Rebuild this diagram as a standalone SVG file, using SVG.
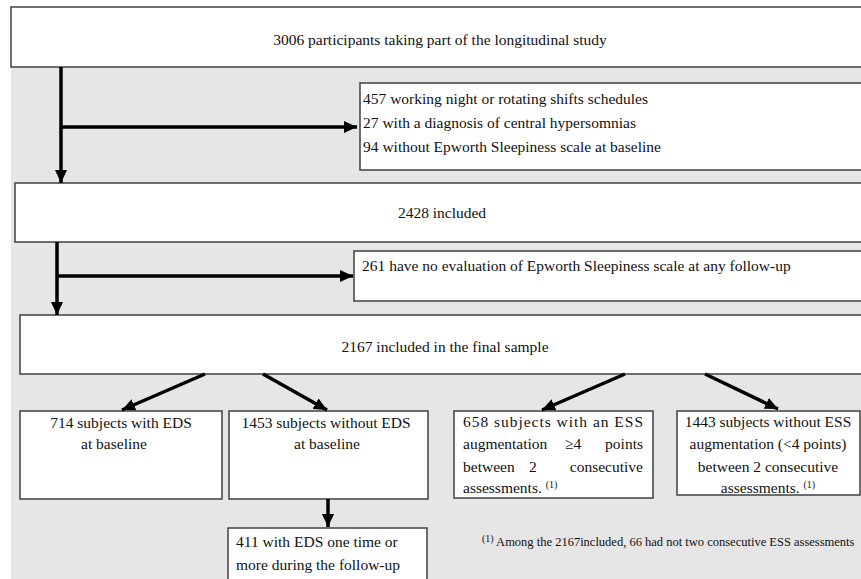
<svg xmlns="http://www.w3.org/2000/svg" width="861" height="579" viewBox="0 0 861 579">
<style>
.box{fill:#ffffff;stroke:#404040;stroke-width:1.5}
text{font-family:'Liberation Serif','Times New Roman','DejaVu Serif',serif;fill:#111111}
.t{font-size:15.5px}
.b{font-size:15.5px}
.sup{font-size:10px}
.c{text-anchor:middle}
.e{text-anchor:end}
.ln{stroke:#000000;stroke-width:3.5;fill:none}
</style>
<defs>
<marker id="ah" markerUnits="userSpaceOnUse" markerWidth="13" markerHeight="12" refX="13" refY="6" orient="auto">
<path d="M0,0 L13,6 L0,12 z" fill="#000000"/>
</marker>
</defs>
<rect x="0" y="0" width="861" height="579" fill="#ffffff"/>
<rect x="11" y="67" width="850" height="512" fill="#e6e6e6"/>

<g id="n-total">
<rect class="box" x="11" y="7" width="860" height="60"/>
<text class="t c" x="440" y="45" font-family="Liberation Serif, serif">3006 participants taking part of the longitudinal study</text>
</g>
<g id="n-excl1">
<rect class="box" x="360" y="83" width="511" height="87"/>
<text class="t" x="363" y="104" font-family="Liberation Serif, serif">457 working night or rotating shifts schedules</text>
<text class="t" x="363" y="128" font-family="Liberation Serif, serif">27 with a diagnosis of central hypersomnias</text>
<text class="t" x="363" y="152" font-family="Liberation Serif, serif">94 without Epworth Sleepiness  scale at baseline</text>
</g>
<g id="n-2428">
<rect class="box" x="15" y="183" width="856" height="59"/>
<text class="t c" x="442" y="218" font-family="Liberation Serif, serif">2428 included</text>
</g>
<g id="n-excl2">
<rect class="box" x="354" y="251" width="517" height="50"/>
<text class="t" x="362" y="271" font-family="Liberation Serif, serif">261 have no evaluation of Epworth Sleepiness  scale at any follow-up</text>
</g>
<g id="n-final">
<rect class="box" x="20" y="315" width="851" height="59"/>
<text class="t c" x="445" y="352" font-family="Liberation Serif, serif">2167 included in the final sample</text>
</g>
<g id="n-eds">
<rect class="box" x="20" y="411" width="202" height="88"/>
<text class="b c" x="121" y="428" font-family="Liberation Serif, serif">714 subjects with EDS</text>
<text class="b c" x="114" y="449" font-family="Liberation Serif, serif">at baseline</text>
</g>
<g id="n-noeds">
<rect class="box" x="229" y="411" width="199" height="88"/>
<text class="b c" x="326" y="428" font-family="Liberation Serif, serif">1453 subjects without EDS</text>
<text class="b c" x="327" y="449" font-family="Liberation Serif, serif">at baseline</text>
</g>
<g id="n-411">
<rect class="box" x="228" y="528" width="199" height="60"/>
<text class="b" x="236" y="547" font-family="Liberation Serif, serif">411 with EDS one time or</text>
<text class="b" x="236" y="570" font-family="Liberation Serif, serif">more during the follow-up</text>
</g>
<g id="n-aug" font-family="Liberation Serif, serif">
<rect class="box" x="454" y="411" width="199" height="87"/>
<text class="b" x="463" y="427" textLength="180" lengthAdjust="spacing">658 subjects with an ESS</text>
<text class="b" x="463" y="449">augmentation</text>
<text class="b" x="565" y="449">≥4</text>
<text class="b e" x="643" y="449">points</text>
<text class="b" x="463" y="472">between</text>
<text class="b" x="529" y="472">2</text>
<text class="b e" x="643" y="472">consecutive</text>
<text class="b" x="463" y="493">assessments. <tspan class="sup" dy="-5">(1)</tspan></text>
</g>
<g id="n-noaug" font-family="Liberation Serif, serif">
<rect class="box" x="677" y="411" width="183" height="84"/>
<text class="b c" x="768" y="427">1443 subjects without ESS</text>
<text class="b c" x="768" y="449">augmentation (&lt;4 points)</text>
<text class="b c" x="768" y="472">between 2 consecutive</text>
<text class="b c" x="768" y="493">assessments. <tspan class="sup" dy="-5">(1)</tspan></text>
</g>
<g id="footnote">
<text x="482" y="546" font-size="12.5" font-family="Liberation Serif, serif"><tspan class="sup" dy="-4">(1)</tspan><tspan dy="4"> Among the 2167included, 66 had not two consecutive ESS assessments</tspan></text>
</g>

<g id="connectors">
<line class="ln" x1="61" y1="67" x2="61" y2="183" marker-end="url(#ah)"/>
<line class="ln" x1="61" y1="127" x2="357" y2="127" marker-end="url(#ah)"/>
<line class="ln" x1="57" y1="242" x2="57" y2="315" marker-end="url(#ah)"/>
<line class="ln" x1="57" y1="276" x2="353" y2="276" marker-end="url(#ah)"/>
<line class="ln" x1="205" y1="374" x2="122" y2="410" marker-end="url(#ah)"/>
<line class="ln" x1="263" y1="374" x2="327" y2="410" marker-end="url(#ah)"/>
<line class="ln" x1="625" y1="374" x2="542" y2="410" marker-end="url(#ah)"/>
<line class="ln" x1="705" y1="374" x2="778" y2="409" marker-end="url(#ah)"/>
<line class="ln" x1="328" y1="499" x2="328" y2="527" marker-end="url(#ah)"/>
</g>
</svg>
